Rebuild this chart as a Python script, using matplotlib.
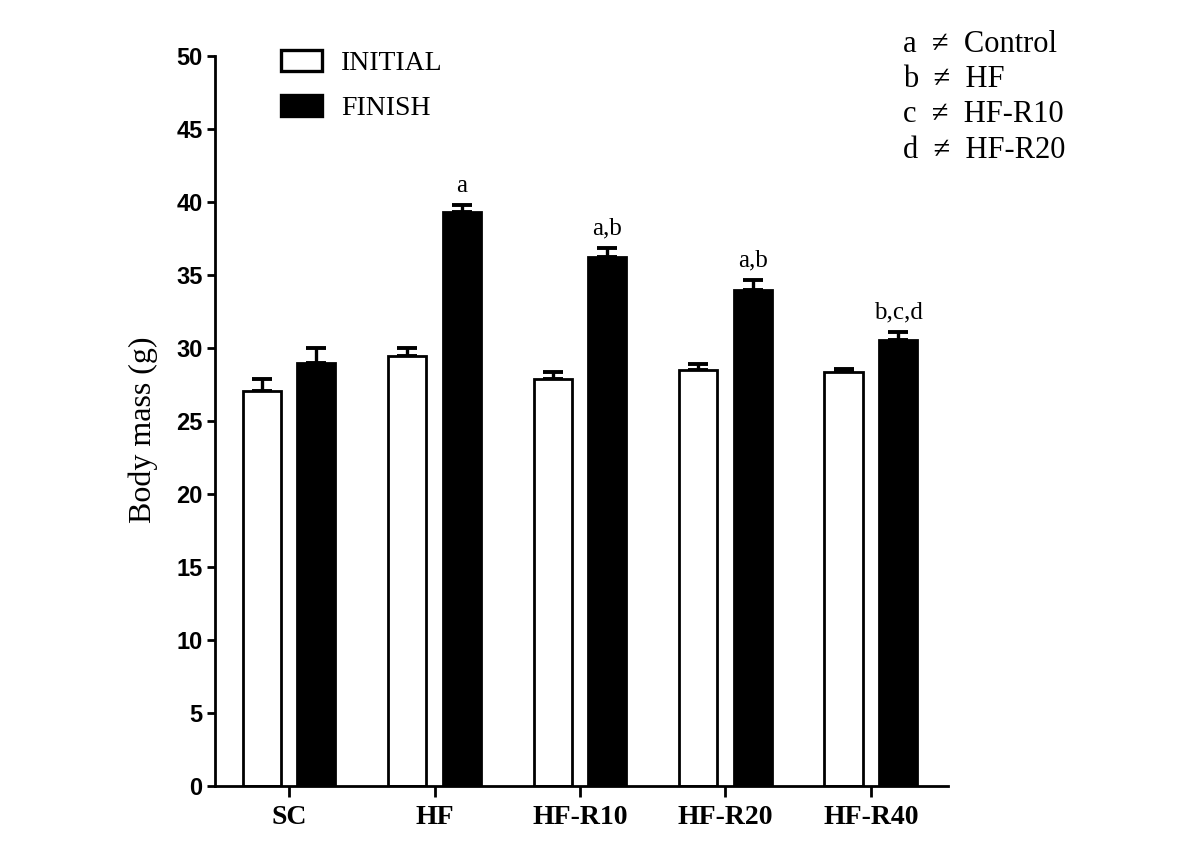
import matplotlib
matplotlib.use("Agg")
import matplotlib.pyplot as plt
import numpy as np
from matplotlib.patches import Patch

groups = ["SC", "HF", "HF-R10", "HF-R20", "HF-R40"]
initial = [27.05, 29.45, 27.9, 28.5, 28.35]
initial_err = [0.85, 0.55, 0.45, 0.4, 0.2]
finish = [29.0, 39.3, 36.2, 34.0, 30.55]
finish_err = [1.0, 0.5, 0.65, 0.65, 0.55]
sig_labels = ["", "a", "a,b", "a,b", "b,c,d"]
series_names = ["INITIAL", "FINISH"]
key_lines = ["a  \u2260  Control", "b  \u2260  HF", "c  \u2260  HF-R10", "d  \u2260  HF-R20"]
yticks = [0, 5, 10, 15, 20, 25, 30, 35, 40, 45, 50]

serif = ["Liberation Serif", "DejaVu Serif"]
sans = ["Liberation Sans", "DejaVu Sans"]

fig = plt.figure(figsize=(12, 8.48), dpi=100)
ax = fig.add_axes([215/1200, 62/848, 733/1200, 730/848])

x = np.arange(len(groups))
off = 0.188
w = 0.262
lw = 2.0

ax.bar(x - off, initial, w, color="white", edgecolor="black", linewidth=lw, zorder=2)
ax.bar(x + off, finish, w, color="black", edgecolor="black", linewidth=lw, zorder=2)
ax.errorbar(x - off, initial, yerr=[np.zeros(len(initial)), initial_err], fmt="none",
            ecolor="black", elinewidth=2.4, capsize=7.5, capthick=2.8, zorder=1)
ax.errorbar(x + off, finish, yerr=[np.zeros(len(finish)), finish_err], fmt="none",
            ecolor="black", elinewidth=2.4, capsize=7.5, capthick=2.8, zorder=1)

for xi, v, e, s in zip(x + off, finish, finish_err, sig_labels):
    if s:
        ax.annotate(s, (xi, v + e), xytext=(0, 6), textcoords="offset points",
                    ha="center", va="bottom", fontsize=18, family=serif)

ax.set_xlim(-0.509, 4.53)
ax.set_ylim(0, 50)
ax.set_yticks(yticks)
ax.set_yticklabels([str(t) for t in yticks], fontsize=17, fontweight="bold", family=sans)
ax.set_xticks(x)
ax.set_xticklabels(groups, fontsize=20, fontweight="bold", family=serif)
ax.tick_params(axis="y", length=6, width=2.0, pad=3)
ax.tick_params(axis="x", length=8, width=2.0, pad=6)
for sp in ["top", "right"]:
    ax.spines[sp].set_visible(False)
for sp in ["left", "bottom"]:
    ax.spines[sp].set_linewidth(2.0)

ax.set_ylabel("Body mass (g)", fontsize=23, family=serif)
ax.yaxis.set_label_coords(-0.078, (786 - 430) / 730)

handles = [Patch(facecolor="white", edgecolor="black", linewidth=2.4),
           Patch(facecolor="black", edgecolor="black", linewidth=2.4)]
fig.legend(handles, series_names, loc="upper left", bbox_to_anchor=(281/1200, 1 - 50/848),
           frameon=False, prop={"family": serif, "size": 20}, handlelength=1.47,
           handleheight=0.8, handletextpad=0.68, labelspacing=0.68, borderpad=0,
           borderaxespad=0)

for i, t in enumerate(key_lines):
    fig.text(903/1200, 1 - (44 + i*35.5)/848, t, fontsize=22, family=serif, ha="left", va="center")

fig.savefig("out.png", dpi=100)
